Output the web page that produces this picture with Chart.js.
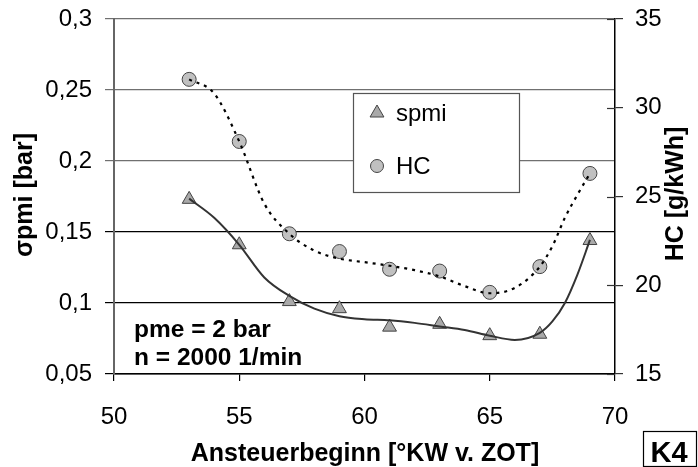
<!DOCTYPE html>
<html>
<head>
<meta charset="utf-8">
<script src="https://cdn.jsdelivr.net/npm/chart.js@4.4.1/dist/chart.umd.min.js"></script>
<style>
  html, body { margin: 0; padding: 0; background: #fff; }
  #graph { display: block; }
</style>
</head>
<body>
<canvas id="graph" width="698" height="467"></canvas>
<script>
// measured points
const startAngles = [53, 55, 57, 59, 61, 63, 65, 67, 69];
const spmiValues = [0.173, 0.141, 0.101, 0.096, 0.083, 0.085, 0.077, 0.078, 0.144];
const hcValues = [31.6, 28.1, 22.9, 21.9, 20.9, 20.8, 19.6, 21.05, 26.3];

// trend curves
const trendAngles = [53, 54, 55, 56, 57, 58, 59, 60, 61, 62, 63, 64, 65, 66, 67, 67.5, 68, 68.5, 69];
const spmiTrend = [0.1735, 0.160, 0.141, 0.118, 0.105, 0.096, 0.0907, 0.0886, 0.0878, 0.086, 0.0835, 0.081, 0.077, 0.074, 0.079, 0.087, 0.100, 0.120, 0.1444];
const hcTrend = [31.6, 30.8, 28.1, 24.6, 22.9, 21.95, 21.5, 21.3, 21.1, 20.85, 20.5, 19.95, 19.55, 19.85, 21.05, 22.2, 23.8, 25.1, 26.3];

// axis ticks
const xTicks = [50, 55, 60, 65, 70];
const leftTicks = [0.05, 0.1, 0.15, 0.2, 0.25, 0.3];
const rightTicks = [15, 20, 25, 30, 35];

const FONT = "'Liberation Sans', Arial, sans-serif";

const pairs = (xs, ys) => xs.map((x, i) => ({ x: x, y: ys[i] }));

// fixed box sizes so the plot area sits where the original has it
const fitY = w => s => { s.width = w; s.paddingTop = 0; s.paddingBottom = 0; };

const extras = {
    id: 'extras',
    afterDraw(chart) {
        const ctx = chart.ctx;
        const area = chart.chartArea;
        const y2 = chart.scales.y2;
        ctx.save();

        // right axis ticks cross the axis line
        ctx.strokeStyle = '#333';
        ctx.lineWidth = 1.2;
        y2.ticks.forEach(t => {
            const py = Math.round(y2.getPixelForValue(t.value)) + 0.5;
            ctx.beginPath();
            ctx.moveTo(area.right - 8, py);
            ctx.lineTo(area.right, py);
            ctx.stroke();
        });

        ctx.fillStyle = '#000';
        ctx.font = 'bold 25px ' + FONT;
        ctx.textAlign = 'center';
        ctx.textBaseline = 'middle';

        ctx.save();
        ctx.translate(25, 195);
        ctx.rotate(-Math.PI / 2);
        ctx.fillText('σpmi [bar]', 0, 0);
        ctx.restore();

        ctx.save();
        ctx.translate(676, 194);
        ctx.rotate(-Math.PI / 2);
        ctx.fillText('HC [g/kWh]', 0, 0);
        ctx.restore();

        ctx.textBaseline = 'alphabetic';
        ctx.fillText('Ansteuerbeginn [°KW v. ZOT]', 365, 461);

        ctx.textAlign = 'left';
        ctx.font = 'bold 24.5px ' + FONT;
        ctx.fillText('pme = 2 bar', 134, 337);
        ctx.fillText('n = 2000 1/min', 134, 365);

        // legend box
        ctx.fillStyle = '#fff';
        ctx.fillRect(353, 93, 166, 99);
        ctx.strokeStyle = '#555';
        ctx.lineWidth = 1.2;
        ctx.strokeRect(353.5, 93.5, 166, 99);
        const ds = chart.data.datasets;
        const entries = [[ds[2], 'spmi', 113], [ds[3], 'HC', 166]];
        entries.forEach(([d, label, ly]) => {
            ctx.fillStyle = d.backgroundColor;
            ctx.strokeStyle = d.borderColor;
            ctx.lineWidth = 1;
            Chart.helpers.drawPoint(ctx, {
                pointStyle: d.pointStyle,
                radius: d.pointStyle === 'triangle' ? 8 : 6.5,
                rotation: 0,
                borderWidth: 1
            }, 377, ly);
            ctx.fillStyle = '#000';
            ctx.font = '24px ' + FONT;
            ctx.textBaseline = 'middle';
            ctx.fillText(label, 396, ly + 1);
        });

        // K4 box
        ctx.strokeStyle = '#000';
        ctx.lineWidth = 1.2;
        ctx.strokeRect(643.5, 431.5, 53, 35);
        ctx.font = 'bold 29px ' + FONT;
        ctx.textAlign = 'center';
        ctx.textBaseline = 'alphabetic';
        ctx.fillText('K4', 669, 462);

        ctx.restore();
    }
};

const gridShade = v => (v >= 0.19 ? '#707070' : '#000');

const graph = new Chart(document.getElementById('graph'), {
    type: 'line',
    data: {
        datasets: [
            {
                label: 'spmi trend',
                data: pairs(trendAngles, spmiTrend),
                yAxisID: 'y',
                borderColor: '#333',
                borderWidth: 2,
                pointRadius: 0,
                cubicInterpolationMode: 'monotone',
                order: 0
            },
            {
                label: 'HC trend',
                data: pairs(trendAngles, hcTrend),
                yAxisID: 'y2',
                borderColor: '#000',
                borderWidth: 2.2,
                borderDash: [3, 5],
                pointRadius: 0,
                cubicInterpolationMode: 'monotone',
                order: 0
            },
            {
                label: 'spmi',
                data: pairs(startAngles, spmiValues),
                yAxisID: 'y',
                showLine: false,
                pointStyle: 'triangle',
                pointRadius: 8,
                pointBorderWidth: 1,
                backgroundColor: '#a9a9a9',
                borderColor: '#444',
                order: 1
            },
            {
                label: 'HC',
                data: pairs(startAngles, hcValues),
                yAxisID: 'y2',
                showLine: false,
                pointStyle: 'circle',
                pointRadius: 7,
                pointBorderWidth: 1,
                backgroundColor: '#c0c0c0',
                borderColor: '#444',
                order: 1
            }
        ]
    },
    options: {
        responsive: false,
        animation: false,
        devicePixelRatio: 1,
        layout: { padding: { top: 19, left: 0, right: 0, bottom: 0 } },
        plugins: { legend: { display: false }, tooltip: { enabled: false } },
        scales: {
            x: {
                type: 'linear',
                min: 50,
                max: 70,
                afterFit: s => { s.height = 93; },
                afterBuildTicks: s => { s.ticks = xTicks.map(v => ({ value: v })); },
                ticks: { color: '#000', font: { family: FONT, size: 24 }, padding: 22, maxRotation: 0 },
                grid: { drawOnChartArea: false, tickLength: 7, color: '#000', lineWidth: 1.2 },
                border: { color: '#000', width: 1.5 }
            },
            y: {
                position: 'left',
                min: 0.05,
                max: 0.3,
                afterFit: fitY(114),
                afterBuildTicks: s => { s.ticks = leftTicks.map(v => ({ value: v })); },
                ticks: {
                    color: '#000',
                    font: { family: FONT, size: 24 },
                    padding: 13,
                    callback: v => v.toFixed(2).replace(/0$/, '').replace('.', ',')
                },
                grid: {
                    tickLength: 9,
                    lineWidth: 1.2,
                    color: c => gridShade(c.tick ? c.tick.value : 0)
                },
                border: { color: '#666', width: 2 }
            },
            y2: {
                position: 'right',
                min: 15,
                max: 35,
                afterFit: fitY(83),
                afterBuildTicks: s => { s.ticks = rightTicks.map(v => ({ value: v })); },
                ticks: { color: '#000', font: { family: FONT, size: 24 }, padding: 12 },
                grid: { drawOnChartArea: false, tickLength: 8, color: '#333', lineWidth: 1.2 },
                border: { color: '#000', width: 1.5 }
            }
        }
    },
    plugins: [extras]
});
</script>
</body>
</html>
